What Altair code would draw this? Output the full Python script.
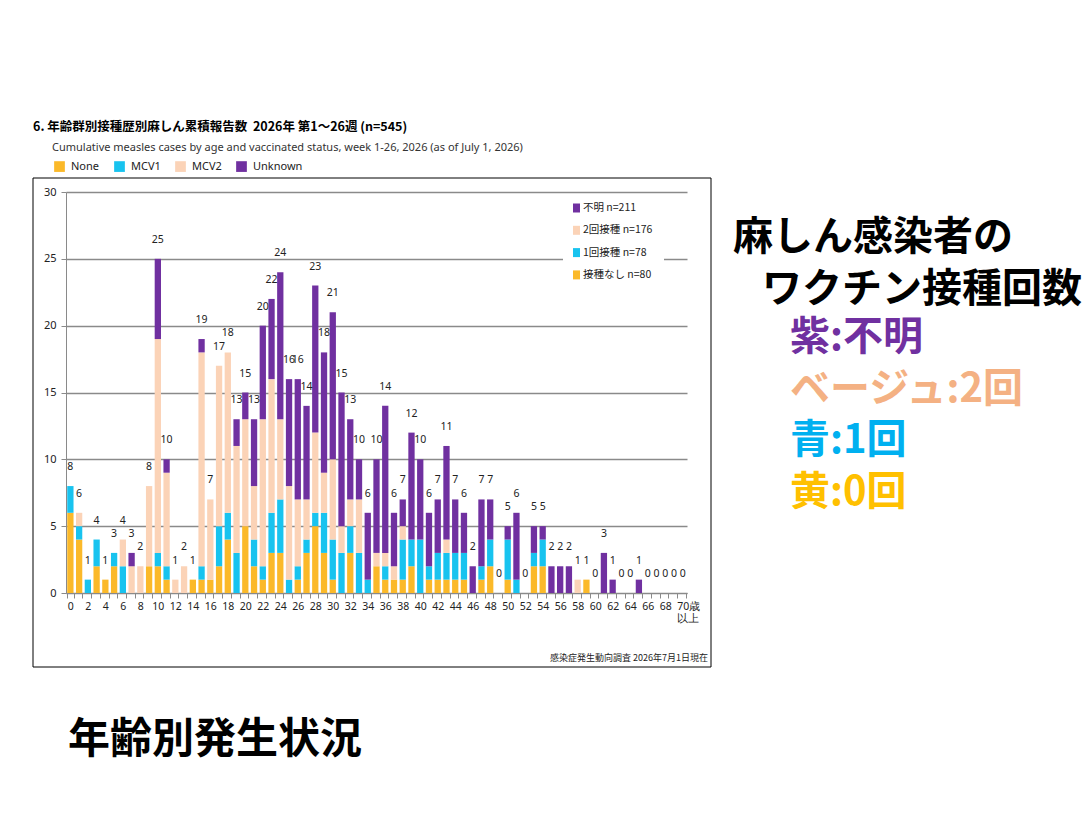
import altair as alt
import pandas as pd

# ---- data ----
ages = list(range(71))
series = ["None", "MCV1", "MCV2", "Unknown"]
series_ja = ["接種なし", "1回接種", "2回接種", "不明"]
colors = ["#FBB929", "#18C3EF", "#FBD3B7", "#7030A0"]

none_cases = [6, 4, 0, 2, 1, 2, 0, 0, 0, 2,
              2, 1, 0, 0, 1, 1, 1, 2, 4, 0,
              5, 2, 1, 3, 3, 0, 1, 3, 5, 3,
              1, 0, 3, 0, 0, 2, 1, 1, 1, 2,
              0, 1, 1, 1, 1, 1, 0, 1, 2, 0,
              1, 0, 0, 2, 2, 0, 0, 0, 0, 1,
              0, 0, 0, 0, 0, 0, 0, 0, 0, 0, 0]
mcv1_cases = [2, 1, 1, 2, 0, 1, 2, 0, 0, 0,
              1, 1, 0, 0, 0, 1, 0, 3, 2, 3,
              0, 2, 1, 3, 4, 1, 1, 1, 1, 3,
              3, 3, 2, 3, 1, 0, 1, 0, 3, 2,
              4, 1, 2, 2, 2, 2, 0, 1, 2, 0,
              3, 1, 0, 1, 2, 0, 0, 0, 0, 0,
              0, 0, 0, 0, 0, 0, 0, 0, 0, 0, 0]
mcv2_cases = [0, 1, 0, 0, 0, 0, 2, 2, 2, 6,
              16, 7, 1, 2, 0, 16, 6, 12, 12, 8,
              8, 4, 11, 10, 6, 7, 5, 3, 6, 3,
              6, 2, 2, 4, 0, 1, 1, 1, 1, 0,
              0, 0, 0, 1, 0, 0, 0, 0, 0, 0,
              0, 0, 0, 0, 0, 0, 0, 0, 1, 0,
              0, 0, 0, 0, 0, 0, 0, 0, 0, 0, 0]
unknown_cases = [0, 0, 0, 0, 0, 0, 0, 1, 0, 0,
                 6, 1, 0, 0, 0, 1, 0, 0, 0, 2,
                 2, 5, 7, 6, 11, 8, 9, 7, 11, 9,
                 11, 10, 6, 3, 5, 7, 11, 4, 2, 8,
                 6, 4, 4, 7, 4, 3, 2, 5, 3, 0,
                 1, 5, 0, 2, 1, 2, 2, 2, 0, 0,
                 0, 3, 1, 0, 0, 1, 0, 0, 0, 0, 0]
y_ticks = [0, 5, 10, 15, 20, 25, 30]

title_text = "6. 年齢群別接種歴別麻しん累積報告数\u00a0\u00a02026年 第1～26週 (n=545)"
subtitle_text = "Cumulative measles cases by age and vaccinated status, week 1-26, 2026 (as of July 1, 2026)"
source_text = "感染症発生動向調査 2026年7月1日現在"
side_title = ["麻しん感染者の", "ワクチン接種回数"]
side_notes = ["紫:不明", "ベージュ:2回", "青:1回", "黄:0回"]
side_colors = ["#7030A0", "#F4B183", "#00B0F0", "#FFC000"]
bottom_text = "年齢別発生状況"

values = [none_cases, mcv1_cases, mcv2_cases, unknown_cases]
rows = []
for k, (name, vals) in enumerate(zip(series, values)):
    for a, v in zip(ages, vals):
        rows.append({"age": a, "status": name, "k": k, "cases": v})
long_df = pd.DataFrame(rows)
totals_df = pd.DataFrame({"age": ages, "total": [sum(t) for t in zip(*values)]})

FONT = "Noto Sans"
JFONT = "Noto Sans CJK JP"
GRAY = "#8a8a8a"

x_enc = alt.X(
    "age:O",
    scale=alt.Scale(paddingInner=0.28, paddingOuter=0.14),
    axis=alt.Axis(
        title=None, labelAngle=0, labelOverlap=False,
        labelExpr="datum.value % 2 == 0 ? (datum.value == 70 ? ['70歳', '以上'] : datum.label) : ''",
        labelAlign={"condition": {"test": "datum.value == 70", "value": "left"}, "value": "center"},
        labelOffset={"condition": {"test": "datum.value == 70", "value": -6}, "value": 0},
        tickBand="extent", tickSize=5, tickColor=GRAY, domainColor=GRAY,
        labelFont=FONT, labelFontSize=10.5, labelColor="#222", labelPadding=3,
        grid=False,
    ),
)

bars = alt.Chart(long_df).mark_bar().encode(
    x=x_enc,
    y=alt.Y(
        "cases:Q", stack="zero",
        scale=alt.Scale(domain=[0, 30], nice=False),
        axis=alt.Axis(
            title=None, values=y_ticks, grid=True, gridColor=GRAY, gridWidth=1.5,
            domainColor=GRAY, tickColor=GRAY, tickSize=5,
            labelFont=FONT, labelFontSize=11, labelColor="#222", labelPadding=5,
        ),
    ),
    color=alt.Color(
        "status:N",
        scale=alt.Scale(domain=series, range=colors),
        legend=alt.Legend(
            orient="none", legendX=-12, legendY=-31, direction="horizontal",
            title=None, symbolType="square", symbolSize=115, symbolStrokeWidth=0,
            labelFont=FONT, labelFontSize=11, labelColor="#222",
            columnPadding=14, labelOffset=6, padding=0,
        ),
    ),
    order=alt.Order("k:Q", sort="ascending"),
)

labels = alt.Chart(totals_df).mark_text(
    dy=-19, fontSize=10.5, font=FONT, color="#222", baseline="middle"
).encode(x=alt.X("age:O"), y=alt.Y("total:Q"), text="total:Q")


def text_layer(t, x, y, size, color="#000", weight="normal", align="left", font=JFONT):
    return alt.Chart(alt.Data(values=[{"t": t}])).mark_text(
        align=align, baseline="middle", fontSize=size, font=font,
        fontWeight=weight, color=color,
    ).encode(x=alt.value(x), y=alt.value(y), text="t:N")


def rect_layer(x, x2, y, y2, fill, stroke=None):
    kw = {"fill": fill}
    if stroke:
        kw.update({"stroke": stroke, "strokeWidth": 1})
    return alt.Chart(alt.Data(values=[{"r": 1}])).mark_rect(**kw).encode(
        x=alt.value(x), x2=alt.value(x2), y=alt.value(y), y2=alt.value(y2)
    )


layers = [rect_layer(-33, 645, -14, 475, "transparent", "#000"), bars, labels]

# inner legend (Japanese, with totals)
layers.append(rect_layer(497, 598, 5, 96, "#ffffff"))
order_inner = [3, 2, 1, 0]
for i, k in enumerate(order_inner):
    yc = 16 + 22.3 * i
    layers.append(rect_layer(507, 514, yc - 4.5, yc + 4.5, colors[k]))
    layers.append(text_layer(f"{series_ja[k]} n={sum(values[k])}", 517, yc, 10.5,
                             color="#222"))

# titles and notes
layers.append(text_layer(title_text, -33, -65, 12.5, weight="bold"))
layers.append(text_layer(subtitle_text, -14, -44, 11, color="#333", font=FONT))
layers.append(text_layer(source_text, 642, 466, 9, color="#222", align="right"))

layers.append(text_layer(side_title[0], 667, 46, 40, weight="bold"))
layers.append(text_layer(side_title[1], 696, 98, 40, weight="bold"))
for i, (t, c) in enumerate(zip(side_notes, side_colors)):
    layers.append(text_layer(t, 724, 146 + 51.5 * i, 40, color=c, weight="bold"))
layers.append(text_layer(bottom_text, 2, 548, 42, weight="bold"))

chart = alt.layer(*layers).properties(
    width=621, height=401,
    autosize=alt.AutoSizeParams(type="none"),
    padding={"left": 66, "top": 192, "right": 401, "bottom": 224},
    background="#ffffff",
).configure_view(stroke=None)

chart.save("out.html", embed_options={"renderer": "svg", "actions": False})
